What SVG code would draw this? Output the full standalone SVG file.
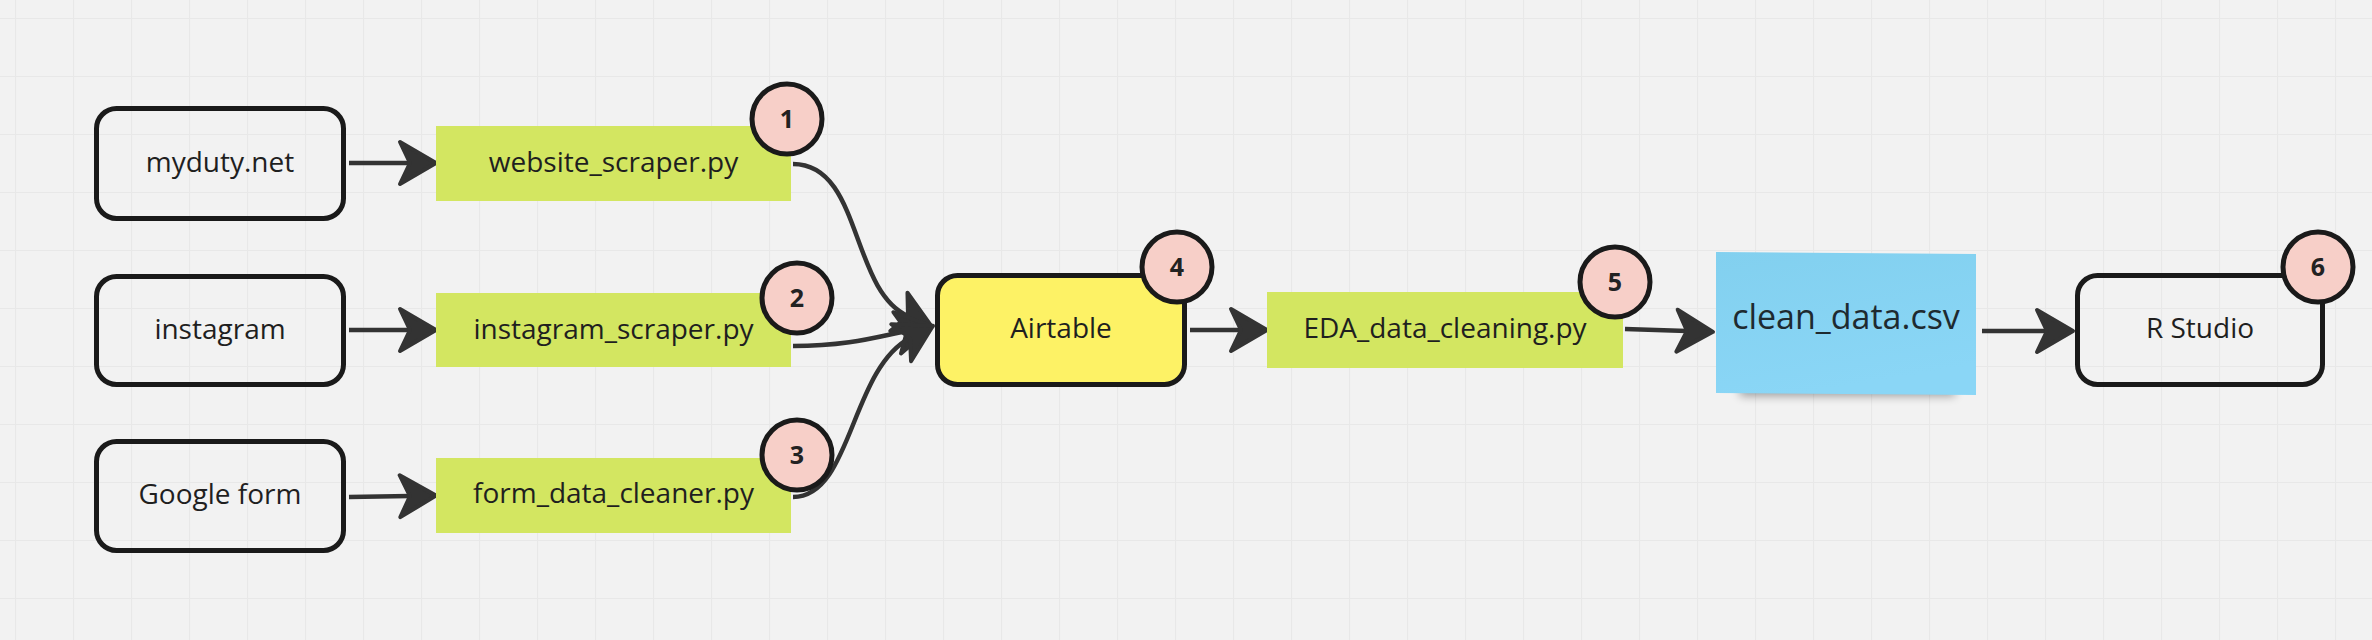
<svg xmlns="http://www.w3.org/2000/svg" width="2372" height="640" viewBox="0 0 2372 640">
  <defs>
    <pattern id="grid" patternUnits="userSpaceOnUse" x="15" y="18" width="58" height="58">
      <path d="M0,0.5 H58 M0.5,0 V58" stroke="#e8e8e8" stroke-width="1.2" fill="none"/>
    </pattern>
    <marker id="arrow" markerUnits="userSpaceOnUse" orient="auto" refX="10" refY="0" viewBox="-4 -26 46 52" markerWidth="46" markerHeight="52" overflow="visible">
      <path d="M0,-21 L36,0 L0,21 L10,0 Z" fill="#333333" stroke="#333333" stroke-width="4" stroke-linejoin="round"/>
    </marker>
    <linearGradient id="blue" x1="0" y1="0" x2="0.3" y2="1">
      <stop offset="0" stop-color="#82d0ef"/>
      <stop offset="1" stop-color="#8ad6f6"/>
    </linearGradient>
    <filter id="blur" x="-20%" y="-100%" width="140%" height="300%">
      <feGaussianBlur stdDeviation="5"/>
    </filter>
    <style>
      .box { fill: none; stroke: #1a1a1a; stroke-width: 5; }
      .green { fill: #d3e661; }
      .lbl { font-family: "Open Sans", "Liberation Sans", sans-serif; font-size: 28px; fill: #1f1f1f; text-anchor: middle; }
      .badge circle { fill: #f7cfc8; stroke: #1a1a1a; stroke-width: 5; }
      .badge text { font-family: "Open Sans", "Liberation Sans", sans-serif; font-size: 25px; font-weight: bold; fill: #222222; text-anchor: middle; }
      .conn { fill: none; stroke: #333333; stroke-width: 4.5; marker-end: url(#arrow); }
    </style>
  </defs>

  <rect x="0" y="0" width="2372" height="640" fill="#f2f2f2"/>
  <rect x="0" y="0" width="2372" height="640" fill="url(#grid)"/>

  <g id="connectors">
    <path class="conn" d="M349,163 H410"/>
    <path class="conn" d="M349,330 H410"/>
    <path class="conn" d="M349,497 L410,496"/>
    <path class="conn" d="M793,164 C862,164 850,290 908,316"/>
    <path class="conn" d="M793,346 C850,346 880,336 907,331"/>
    <path class="conn" d="M793,497 C852,497 850,370 910,338"/>
    <path class="conn" d="M1190,330 H1241"/>
    <path class="conn" d="M1625,329 L1687,331"/>
    <path class="conn" d="M1982,331 L2047,331"/>
  </g>

  <g id="myduty">
    <rect class="box" x="96.5" y="108.5" width="247" height="110" rx="20"/>
    <text class="lbl" x="220" y="172">myduty.net</text>
  </g>
  <g id="instagram">
    <rect class="box" x="96.5" y="276.5" width="247" height="108" rx="20"/>
    <text class="lbl" x="220" y="339">instagram</text>
  </g>
  <g id="googleform">
    <rect class="box" x="96.5" y="441.5" width="247" height="109" rx="20"/>
    <text class="lbl" x="220" y="504">Google form</text>
  </g>

  <g id="website_scraper">
    <rect class="green" x="436" y="126" width="355" height="75"/>
    <text class="lbl" x="613.5" y="172">website_scraper.py</text>
  </g>
  <g id="instagram_scraper">
    <rect class="green" x="436" y="293" width="355" height="74"/>
    <text class="lbl" x="613.5" y="339">instagram_scraper.py</text>
  </g>
  <g id="form_data_cleaner">
    <rect class="green" x="436" y="458" width="355" height="75"/>
    <text class="lbl" x="613.5" y="503">form_data_cleaner.py</text>
  </g>

  <g id="airtable">
    <rect x="937.5" y="275.5" width="247" height="109" rx="20" fill="#fdf265" stroke="#1a1a1a" stroke-width="5"/>
    <text class="lbl" x="1061" y="338">Airtable</text>
  </g>

  <g id="eda">
    <rect class="green" x="1267" y="292" width="356" height="76"/>
    <text class="lbl" x="1445" y="338">EDA_data_cleaning.py</text>
  </g>

  <g id="clean_data">
    <rect x="1740" y="382" width="215" height="14" fill="#000000" opacity="0.35" filter="url(#blur)"/>
    <polygon points="1716,252 1976,254 1976,395 1716,393" fill="url(#blue)"/>
    <text x="1846" y="329" font-family="'Open Sans', 'Liberation Sans', sans-serif" font-size="34" fill="#1e2a30" text-anchor="middle">clean_data.csv</text>
  </g>

  <g id="rstudio">
    <rect class="box" x="2077.5" y="275.5" width="245" height="109" rx="20"/>
    <text class="lbl" x="2200" y="338">R Studio</text>
  </g>

  <g id="badge1" class="badge">
    <circle cx="787" cy="119" r="35"/>
    <text x="787" y="128">1</text>
  </g>
  <g id="badge2" class="badge">
    <circle cx="797" cy="298" r="35"/>
    <text x="797" y="307">2</text>
  </g>
  <g id="badge3" class="badge">
    <circle cx="797" cy="455" r="35"/>
    <text x="797" y="464">3</text>
  </g>
  <g id="badge4" class="badge">
    <circle cx="1177" cy="267" r="35"/>
    <text x="1177" y="276">4</text>
  </g>
  <g id="badge5" class="badge">
    <circle cx="1615" cy="282" r="35"/>
    <text x="1615" y="291">5</text>
  </g>
  <g id="badge6" class="badge">
    <circle cx="2318" cy="267" r="35"/>
    <text x="2318" y="276">6</text>
  </g>
</svg>
